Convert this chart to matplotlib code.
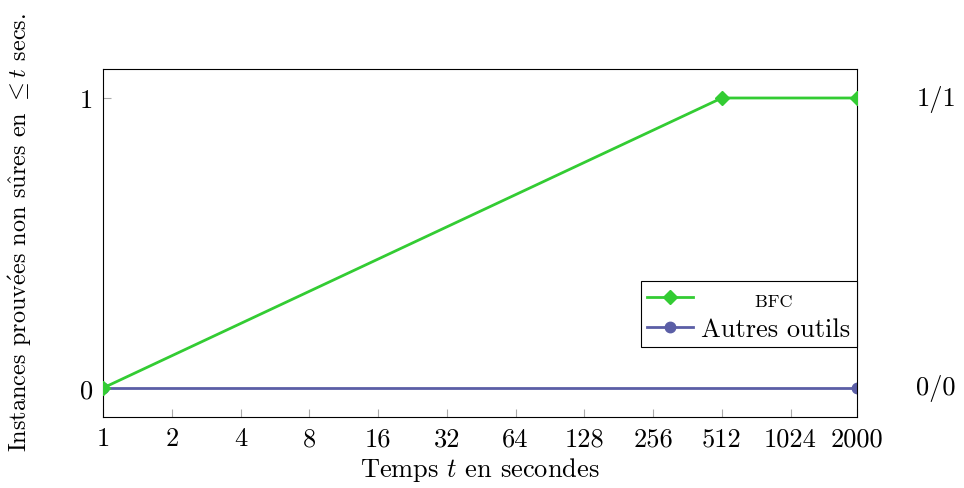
import matplotlib
matplotlib.use("Agg")
import matplotlib.pyplot as plt
from matplotlib.ticker import FixedLocator, NullLocator

# Font set up to look like LaTeX / pgfplots output
plt.rcParams['font.family'] = ['cmr10', 'DejaVu Serif']
plt.rcParams['mathtext.fontset'] = 'cm'
plt.rcParams['axes.formatter.use_mathtext'] = True

# Data
x_ticks = [1, 2, 4, 8, 16, 32, 64, 128, 256, 512, 1024, 2000]
x_tick_labels = ['1', '2', '4', '8', '16', '32', '64', '128', '256', '512', '1024', '2000']
bfc_t = [1, 512, 2000]
bfc_vals = [0, 1, 1]
autres_t = [1, 2000]
autres_vals = [0, 0]
y_ticks = [0, 1]
right_labels = ['0/0', '1/1']

green = '#33cc33'
blue = '#5b5ea6'
fs = 19

fig = plt.figure(figsize=(9.64, 4.89), dpi=100)
ax = fig.add_axes([103 / 964, 1 - 418 / 489, (857 - 103) / 964, (418 - 70) / 489])

ax.plot(autres_t, autres_vals, color=blue, lw=2, marker='o', ms=7.5, label='Autres outils', zorder=2)
ax.plot(bfc_t, bfc_vals, color=green, lw=2, marker='D', ms=7, label='         BFC', zorder=3)

ax.set_xscale('log', base=2)
ax.set_xlim(1, 2000)
ax.set_ylim(-0.1, 1.1)
ax.xaxis.set_major_locator(FixedLocator(x_ticks))
ax.set_xticklabels(x_tick_labels)
ax.xaxis.set_minor_locator(NullLocator())
ax.set_yticks(y_ticks)
ax.set_yticklabels([str(v) for v in y_ticks])
ax.tick_params(axis='both', direction='in', length=6, color='#aaaaaa', labelsize=fs, pad=7)

for sp in ax.spines.values():
    sp.set_linewidth(0.8)

ax.set_xlabel(r'Temps $t$ en secondes', fontsize=fs, labelpad=3)
fig.text(20 / 964, 1 - 232 / 489,
         r'Instances prouv$\mathrm{\acute{e}}$es non s$\mathrm{\hat{u}}$res en $\leq t$ secs.',
         rotation=90, ha='center', va='center', fontsize=17.5)

# right hand labels
for yv, lab in zip(y_ticks, right_labels):
    ax.text(1.105, yv, lab, transform=ax.get_yaxis_transform(), ha='center', va='center', fontsize=fs)

handles, labels = ax.get_legend_handles_labels()
leg = ax.legend(handles[::-1], labels[::-1], loc='lower right', bbox_to_anchor=(1.0, 0.2),
                fontsize=fs, fancybox=False, edgecolor='black', framealpha=1, borderaxespad=0,
                handlelength=1.75, borderpad=0.25, labelspacing=0.3, handletextpad=0.3)
leg.get_frame().set_linewidth(0.8)
leg.get_texts()[0].set_fontsize(13)

fig.savefig('out.png', dpi=100)
